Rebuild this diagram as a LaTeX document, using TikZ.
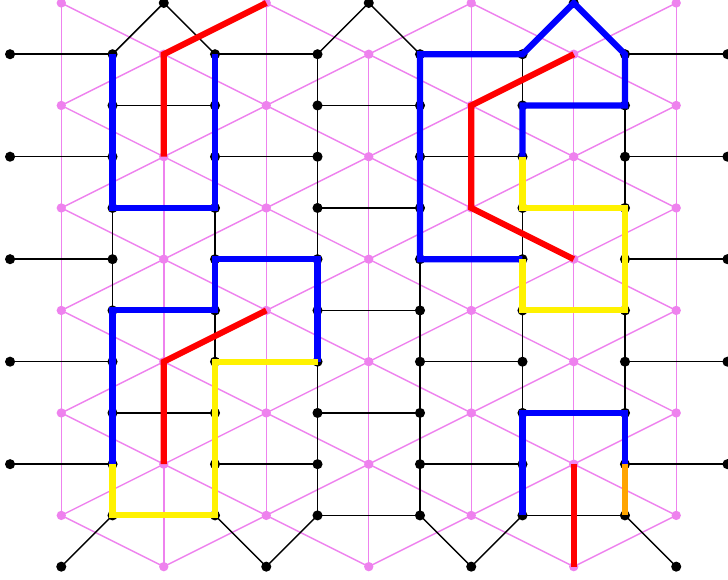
\documentclass[tikz,border=0pt]{standalone}
\usepackage{tikz}

\definecolor{trivio}{RGB}{238,130,238}
\definecolor{segorange}{RGB}{255,165,0}

\tikzset{
    brick/.style={black,line width=0.4pt},
    tri/.style={trivio,line width=0.4pt},
    loopseg/.style={line width=1.7pt},
}

\begin{document}
\begin{tikzpicture}[x=1cm,y=-0.5cm]
    \useasboundingbox (-0.098,-0.058) rectangle (7.005,11.248);

    % brick lattice points
    \foreach \i in {1,...,6}
        \foreach \j in {1,...,10}
            \coordinate (v-\i-\j) at (\i,\j);
    \foreach \j in {1,3,5,7,9} {
        \coordinate (v-0-\j) at (0,\j);
        \coordinate (v-7-\j) at (7,\j);
    }
    \foreach \i in {1,3,5}
        \coordinate (top-\i) at (\i+0.5,0);
    \foreach \i in {0,2,4,6}
        \coordinate (bot-\i) at (\i+0.5,11);

    % triangle lattice points
    \foreach \k in {0,2,4,6}
        \foreach \j in {0,2,...,10}
            \coordinate (t-\k-\j) at (\k+0.5,\j);
    \foreach \k in {1,3,5}
        \foreach \j in {1,3,...,11}
            \coordinate (t-\k-\j) at (\k+0.5,\j);

    % triangle lattice
    \foreach \k in {0,2,4,6}
        \foreach \j in {0,2,...,8} {
            \pgfmathtruncatemacro{\jj}{\j+2}
            \draw [tri] (t-\k-\j) -- (t-\k-\jj);
        }
    \foreach \k in {1,3,5}
        \foreach \j in {1,3,...,9} {
            \pgfmathtruncatemacro{\jj}{\j+2}
            \draw [tri] (t-\k-\j) -- (t-\k-\jj);
        }
    \foreach \k in {0,...,5}
        \foreach \j in {0,...,10} {
            \pgfmathtruncatemacro{\kk}{\k+1}
            \pgfmathtruncatemacro{\ja}{\j+mod(\k+\j,2)}
            \pgfmathtruncatemacro{\jb}{\j+1-mod(\k+\j,2)}
            \draw [tri] (t-\k-\ja) -- (t-\kk-\jb);
        }

    % brick lattice
    \foreach \i in {1,...,6}
        \foreach \j in {1,...,9} {
            \pgfmathtruncatemacro{\jj}{\j+1}
            \draw [brick] (v-\i-\j) -- (v-\i-\jj);
        }
    \foreach \j in {1,3,5,7,9}
        \foreach \i in {0,2,4,6} {
            \pgfmathtruncatemacro{\ii}{\i+1}
            \draw [brick] (v-\i-\j) -- (v-\ii-\j);
        }
    \foreach \j in {2,4,...,10}
        \foreach \i in {1,3,5} {
            \pgfmathtruncatemacro{\ii}{\i+1}
            \draw [brick] (v-\i-\j) -- (v-\ii-\j);
        }
    % top and bottom zigzag
    \draw [brick] (v-1-1) -- (top-1) -- (v-2-1);
    \draw [brick] (v-3-1) -- (top-3) -- (v-4-1);
    \draw [brick] (v-5-1) -- (top-5) -- (v-6-1);
    \draw [brick] (bot-0) -- (v-1-10);
    \draw [brick] (v-2-10) -- (bot-2) -- (v-3-10);
    \draw [brick] (v-4-10) -- (bot-4) -- (v-5-10);
    \draw [brick] (v-6-10) -- (bot-6);

    % dots
    \foreach \i in {1,...,6}
        \foreach \j in {1,...,10}
            \fill (v-\i-\j) circle (1.4pt);
    \foreach \j in {1,3,5,7,9} {
        \fill (v-0-\j) circle (1.4pt);
        \fill (v-7-\j) circle (1.4pt);
    }
    \foreach \p in {top-1,top-3,top-5,bot-0,bot-2,bot-4,bot-6}
        \fill (\p) circle (1.4pt);
    \foreach \k in {0,2,4,6}
        \foreach \j in {0,2,...,10}
            \fill [trivio] (t-\k-\j) circle (1.3pt);
    \foreach \k in {1,3,5}
        \foreach \j in {1,3,...,11}
            \fill [trivio] (t-\k-\j) circle (1.3pt);

    % left loops
    \draw [loopseg,blue] (v-1-1) -- (v-1-4) -- (v-2-4) -- (v-2-1);
    \draw [loopseg,red] (t-1-3) -- (t-1-1) -- (t-2-0);
    \draw [loopseg,blue] (v-1-9) -- (v-1-6) -- (v-2-6) -- (v-2-5) -- (v-3-5) -- (v-3-7);
    \draw [loopseg,yellow] (v-3-7) -- (v-2-7) -- (v-2-10) -- (v-1-10) -- (v-1-9);
    \draw [loopseg,red] (t-1-9) -- (t-1-7) -- (t-2-6);

    % right loops
    \draw [loopseg,blue] (v-5-5) -- (v-4-5) -- (v-4-1) -- (v-5-1) -- (top-5)
        -- (v-6-1) -- (v-6-2) -- (v-5-2) -- (v-5-3);
    \draw [loopseg,yellow] (v-5-3) -- (v-5-4) -- (v-6-4) -- (v-6-6) -- (v-5-6) -- (v-5-5);
    \draw [loopseg,red] (t-5-1) -- (t-4-2) -- (t-4-4) -- (t-5-5);
    \draw [loopseg,blue] (v-5-10) -- (v-5-8) -- (v-6-8) -- (v-6-9);
    \draw [loopseg,segorange] (v-6-9) -- (v-6-10);
    \draw [loopseg,red] (t-5-9) -- (t-5-11);
\end{tikzpicture}
\end{document}
